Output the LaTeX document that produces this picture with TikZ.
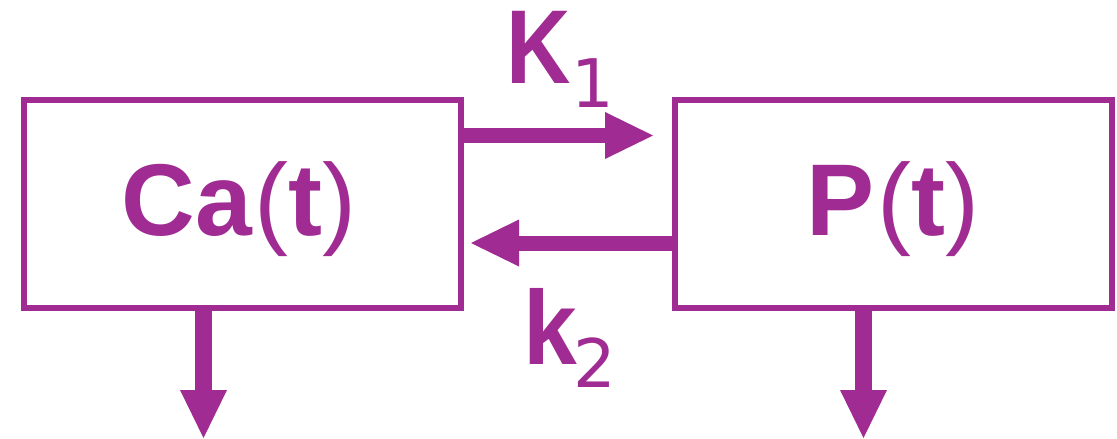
\documentclass[tikz,border=0pt]{standalone}
\usepackage{fontspec}
\setmainfont{Liberation Sans}
\newfontfamily\subfont{DejaVu Sans}
\usetikzlibrary{arrows.meta}
\definecolor{pur}{RGB}{160,43,147}
\begin{document}
\begin{tikzpicture}[x=1pt,y=-1pt,
  box/.style={draw=pur,line width=6pt,minimum width=437.5pt,minimum height=208.5pt,inner sep=0pt},
  flow/.style={draw=pur,line width=15pt,-{Triangle[width=47pt,length=48pt,line width=0pt]}},
  outflow/.style={draw=pur,line width=17pt,-{Triangle[width=47pt,length=48pt,line width=0pt]}},
  big/.style={text=pur,inner sep=0pt,font=\fontsize{102}{110}\selectfont\bfseries},
  rate/.style={text=pur,inner sep=0pt,font=\fontsize{105}{110}\selectfont\bfseries}]
\useasboundingbox (0,0) rectangle (1117,439);
\node[box] (lbox) at (242.25,203.75) {};
\node[box] (rbox) at (893.25,203.75) {};
\node[big,anchor=base] (ca) at (239,235) {Ca\kern3pt{\mdseries(}t{\mdseries)}};
\node[big,anchor=base] (pt) at (892.5,235) {P\kern3pt{\mdseries(}t{\mdseries)}};
\node[rate,anchor=base west] (k1) at (506.5,83) {\scalebox{0.85}[1]{K}\raisebox{-24pt}{\subfont\mdseries\fontsize{67}{70}\selectfont 1}};
\node[rate,anchor=base west] (k2) at (523,364) {\scalebox{0.92}[1]{k}\kern-3pt\raisebox{-23pt}{\subfont\mdseries\fontsize{67}{70}\selectfont 2}};
\coordinate (lout) at (203.5,438);
\coordinate (rout) at (863.5,438);
\draw[flow] ([yshift=68.25pt]lbox.east) -- ([xshift=-18.5pt,yshift=68.25pt]rbox.west);
\draw[flow] ([yshift=-39.25pt]rbox.west) -- ([xshift=7pt,yshift=-39.25pt]lbox.east);
\draw[outflow] ([xshift=-38.75pt]lbox.south) -- (lout);
\draw[outflow] ([xshift=-29.75pt]rbox.south) -- (rout);
\end{tikzpicture}
\end{document}
